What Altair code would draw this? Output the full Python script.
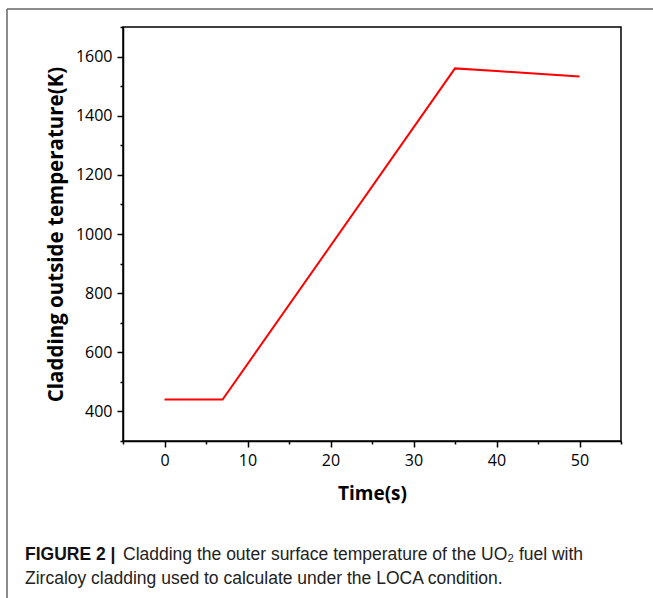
import altair as alt
import pandas as pd

# Cladding outer-surface temperature during the LOCA transient
time_s = [0, 7, 35, 40, 45, 50]
temp_k = [440, 440, 1560, 1551, 1542, 1533]

x_major = [0, 10, 20, 30, 40, 50]
x_minor = [-5, 5, 15, 25, 35, 45, 55]
y_major = [400, 600, 800, 1000, 1200, 1400, 1600]
y_minor = [300, 500, 700, 900, 1100, 1300, 1500, 1700]

caption_bold = "FIGURE 2 |"
caption_line1 = "Cladding the outer surface temperature of the UO\u2082 fuel with"
caption_line2 = "Zircaloy cladding used to calculate under the LOCA condition."

df = pd.DataFrame({"time": time_s, "temp": temp_k})

W, H = 498, 414
PAD = {"left": 123, "top": 27, "right": 32, "bottom": 157}

x_scale = alt.Scale(domain=[-5, 55], nice=False, zero=False)
y_scale = alt.Scale(domain=[300, 1700], nice=False, zero=False)

label_font = "Open Sans"
cap_font = "Liberation Sans"
cap_size = 17.5

main = alt.Chart(df).mark_line(color="#ff0000", strokeWidth=2).encode(
    x=alt.X("time:Q", scale=x_scale, axis=alt.Axis(
        orient="bottom", values=x_major, tickSize=6, labelPadding=5,
        title="Time(s)", titlePadding=16, grid=False, format="d")),
    y=alt.Y("temp:Q", scale=y_scale, axis=alt.Axis(
        orient="left", values=y_major, tickSize=6, labelPadding=5,
        title="Cladding outside temperature(K)", titlePadding=9,
        titleFontSize=20.5, grid=False, format="d")),
)

# invisible copy that carries the minor tick axes
minor = alt.Chart(df).mark_line(opacity=0).encode(
    x=alt.X("time:Q", scale=x_scale, axis=alt.Axis(
        orient="bottom", values=x_minor, tickSize=3, labels=False,
        domain=False, title=None, grid=False)),
    y=alt.Y("temp:Q", scale=y_scale, axis=alt.Axis(
        orient="left", values=y_minor, tickSize=3, labels=False,
        domain=False, title=None, grid=False)),
)

one = pd.DataFrame({"k": [0]})

cap_bold = alt.Chart(one).mark_text(
    align="left", baseline="middle", font=cap_font,
    fontSize=cap_size, fontWeight="bold", color="#111"
).encode(x=alt.value(-98), y=alt.value(528), text=alt.value(caption_bold))

cap_l1 = alt.Chart(one).mark_text(
    align="left", baseline="middle", font=cap_font,
    fontSize=cap_size, color="#222"
).encode(x=alt.value(0), y=alt.value(528), text=alt.value(caption_line1))

cap_l2 = alt.Chart(one).mark_text(
    align="left", baseline="middle", font=cap_font,
    fontSize=cap_size, color="#222"
).encode(x=alt.value(-98), y=alt.value(552), text=alt.value(caption_line2))

# page frame on the top and left edges
frame_top = alt.Chart(one).mark_rule(color="#666", strokeWidth=1.5).encode(
    x=alt.value(-116), x2=alt.value(530), y=alt.value(-18))
frame_left = alt.Chart(one).mark_rule(color="#666", strokeWidth=1.5).encode(
    x=alt.value(-116), y=alt.value(-18), y2=alt.value(571))

chart = alt.layer(
    frame_top, frame_left, minor, main, cap_bold, cap_l1, cap_l2
).resolve_axis(x="independent", y="independent").properties(
    width=W, height=H, padding=PAD,
    autosize=alt.AutoSizeParams(type="none"),
    background="white",
).configure_view(
    stroke="black", strokeWidth=1.5
).configure_axis(
    domainColor="black", domainWidth=1.5, tickColor="black", tickWidth=1.5,
    labelFont=label_font, labelFontSize=16, labelColor="black",
    titleFont=label_font, titleFontSize=19, titleFontWeight="bold", titleColor="black",
)

chart.save("out.html", embed_options={"renderer": "svg", "actions": False})
